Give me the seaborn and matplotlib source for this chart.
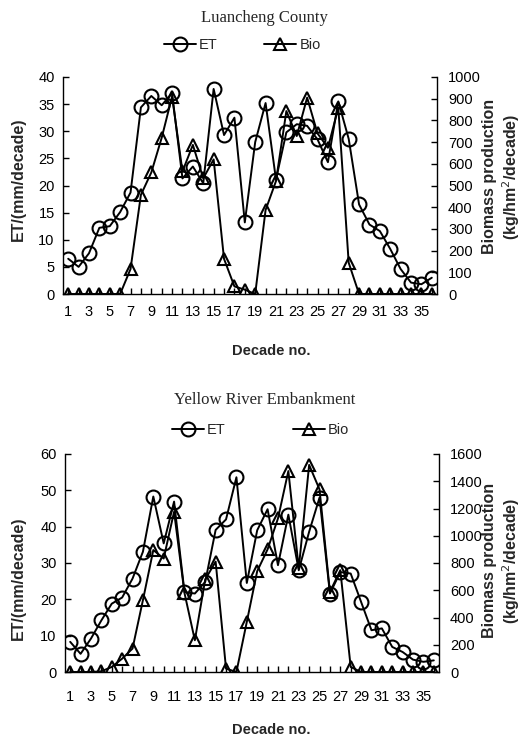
import numpy as np
import pandas as pd
import matplotlib
matplotlib.use('Agg')
import matplotlib.pyplot as plt
import seaborn as sns

# Decades 1..36
decades = list(range(1, 37))

# Luancheng County
lc_et = [6.5, 5.0, 7.5, 12.2, 12.5, 15.1, 18.7, 34.4, 36.5, 34.8, 37.0, 21.3,
         23.5, 20.4, 37.8, 29.3, 32.5, 13.2, 28.0, 35.2, 21.1, 29.8, 31.3, 31.0,
         28.5, 24.3, 35.5, 28.6, 16.5, 12.8, 11.6, 8.3, 4.6, 2.1, 1.8, 3.0]
lc_bio = [0, 0, 0, 0, 0, 0, 115, 457, 560, 720, 910, 565,
          687, 533, 620, 162, 35, 20, 0, 387, 520, 843, 728, 905,
          740, 674, 858, 144, 0, 0, 0, 0, 0, 0, 0, 0]

# Yellow River Embankment
yr_et = [8.3, 5.0, 9.2, 14.2, 18.8, 20.5, 25.7, 33.1, 48.3, 35.4, 46.9, 22.0,
         21.6, 24.8, 39.1, 42.0, 53.6, 24.5, 39.0, 44.8, 29.4, 43.3, 28.0, 38.6,
         48.0, 21.6, 27.5, 27.1, 19.3, 11.5, 12.0, 6.9, 5.5, 3.4, 2.8, 3.2]
yr_bio = [0, 0, 0, 5, 37, 98, 172, 527, 895, 833, 1176, 580,
          233, 680, 810, 25, 0, 368, 740, 900, 1127, 1475, 760, 1520,
          1340, 588, 747, 37, 0, 0, 0, 0, 0, 0, 0, 0]

sns.set_style('ticks')
plt.rcParams['font.family'] = ['Liberation Sans', 'DejaVu Sans']

W, H = 521, 738
fig = plt.figure(figsize=(W / 100, H / 100), dpi=100)


def draw_panel(rect, title, title_y, et, bio, et_max, et_step, bio_max, bio_step,
               leg_y, leg_x, colsp, xlab_y, xpad, left_yc, right_yc):
    ax = fig.add_axes(rect)
    ax2 = ax.twinx()
    df = pd.DataFrame({'Decade': decades, 'ET': et, 'Bio': bio})

    sns.lineplot(data=df, x='Decade', y='ET', ax=ax, color='black', lw=1.4,
                 marker='o', markersize=10, markerfacecolor='none',
                 markeredgecolor='black', markeredgewidth=1.5, label='ET',
                 legend=False)
    sns.lineplot(data=df, x='Decade', y='Bio', ax=ax2, color='black', lw=1.4,
                 marker='^', markersize=9, markerfacecolor='none',
                 markeredgecolor='black', markeredgewidth=1.5, label='Bio',
                 legend=False)

    ax.set_xlim(0.5, 36.5)
    ax.set_ylim(0, et_max)
    ax2.set_ylim(0, bio_max)
    ax.set_yticks(np.arange(0, et_max + 0.1, et_step))
    ax2.set_yticks(np.arange(0, bio_max + 0.1, bio_step))
    ax.set_xticks(decades)
    ax.set_xticklabels([str(d) if d % 2 == 1 else '' for d in decades])

    for a in (ax, ax2):
        a.spines['top'].set_visible(False)
        for s in a.spines.values():
            s.set_linewidth(1.0)
            s.set_color('black')
        a.tick_params(direction='in', length=4, width=1, labelsize=10.5,
                      colors='black')
    ax.spines['right'].set_visible(False)
    ax2.spines['left'].set_visible(False)
    ax2.spines['bottom'].set_visible(False)
    ax.tick_params(axis='x', pad=xpad, labelsize=10.5)
    ax.tick_params(axis='y', pad=6)
    ax2.tick_params(axis='y', pad=8)
    ax.grid(False)
    ax2.grid(False)
    ax.set_xlabel('')
    ax.set_ylabel('')
    ax2.set_ylabel('')

    # axis titles
    x0, y0, w, h = rect
    fig.text(0.52, xlab_y, 'Decade no.', ha='center', va='center',
             fontsize=10.5, fontweight='bold')
    fig.text(18 / W, y0 + h * left_yc, 'ET/(mm/decade)', ha='center',
             va='center', rotation=90, fontsize=11.5, fontweight='bold')
    fig.text(502 / W, y0 + h * right_yc,
             'Biomass production\n(kg/hm$^2$/decade)',
             ha='center', va='center', rotation=90, fontsize=11.5,
             fontweight='bold', linespacing=1.15, multialignment='center')

    fig.text(0.508, title_y, title, ha='center', va='center',
             family='Liberation Serif', fontsize=12)

    h1, l1 = ax.get_legend_handles_labels()
    h2, l2 = ax2.get_legend_handles_labels()
    fig.legend(h1 + h2, l1 + l2, loc='center', bbox_to_anchor=(leg_x, leg_y),
               ncol=2, frameon=False, fontsize=10.5, handlelength=2.2,
               handletextpad=0.2, columnspacing=colsp)
    return ax, ax2


draw_panel([63 / W, 1 - 294 / H, 374 / W, 217 / H], 'Luancheng County',
           1 - 18 / H, lc_et, lc_bio, 40, 5, 1000, 100,
           1 - 45 / H, 0.465, 3.2, 1 - 351 / H, 8, 0.53, 0.54)

draw_panel([65 / W, 1 - 672 / H, 374 / W, 218 / H], 'Yellow River Embankment',
           1 - 400 / H, yr_et, yr_bio, 60, 10, 1600, 200,
           1 - 430 / H, 0.5, 4.6, 1 - 730 / H, 13, 0.43, 0.51)

fig.savefig('out.png', dpi=100)
